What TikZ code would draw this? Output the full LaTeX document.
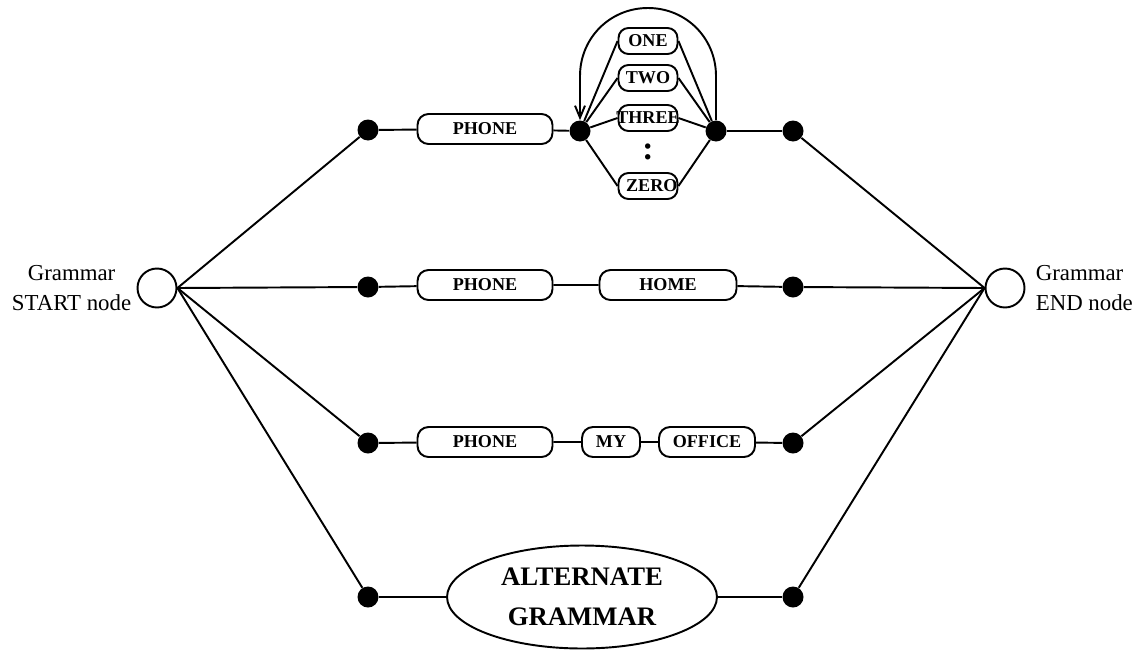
\documentclass[tikz,border=0pt]{standalone}
\usepackage{fontspec}
\setmainfont{Liberation Serif}
\usepackage{tikz}
\usetikzlibrary{arrows,arrows.meta,shapes,positioning}
\tikzstyle{word} = [rectangle, rounded corners=0.22cm, minimum width=2.7cm, minimum height=0.6cm, inner sep=0pt, text centered, draw, line width=1.1pt, font=\fontsize{10.3}{12}\selectfont\bfseries]
\tikzstyle{choice} = [word, rounded corners=0.2cm, minimum width=1.18cm, minimum height=0.52cm]
\tikzstyle{grammar} = [ellipse, minimum width=5.4cm, minimum height=2.06cm, inner sep=0pt, align=center, draw, line width=1.1pt, font=\fontsize{15.2}{22.8}\selectfont\bfseries]
\tikzstyle{terminal} = [circle, minimum size=0.78cm, inner sep=0pt, draw, line width=1.1pt]
\tikzstyle{junction} = [circle, minimum size=0.42cm, inner sep=0pt, fill=black]
\tikzstyle{tag} = [inner sep=0pt, font=\fontsize{13}{17}\selectfont]
\tikzstyle{link} = [line width=1.1pt]
\tikzstyle{arrow} = [line width=1.1pt,-{Straight Barb[length=0.24cm,width=0.2cm]}]

\begin{document}
\begin{tikzpicture}[x=0.02cm, y=-0.02cm]
\useasboundingbox (0,0) rectangle (1136,653);
% Start and end
\node[terminal] (start) at (157,288) {};
\node[terminal] (finish) at (1005,288) {};
\node[tag, align=center, left=0.1cm of start] (startlbl) {Grammar\\START node};
\node[tag, align=left, right=0.2cm of finish] (finishlbl) {Grammar\\END node};

% Path 1: phone + digit loop
\node[junction] (a1) at (368,130) {};
\node[word] (phoneA) at (485,129) {PHONE};
\node[junction] (split) at (580,131) {};
\node[choice] (one) at (648,41) {ONE};
\node[choice] (two) at (648,78) {TWO};
\node[choice] (three) at (648,118) {\makebox[1.1cm]{THREE}};
\node[inner sep=0pt, font=\fontsize{19}{19}\selectfont\bfseries] (more) at (648,152) {:};
\node[choice] (zero) at (648,186) {\makebox[1.1cm]{\hspace{0.15cm}ZERO}};
\node[junction] (merge) at (716,131) {};
\node[junction] (b1) at (793,131) {};

% Path 2
\node[junction] (a2) at (368,287) {};
\node[word] (phoneB) at (485,285) {PHONE};
\node[word, minimum width=2.74cm] (home) at (668,285) {HOME};
\node[junction] (b2) at (793,287) {};

% Path 3
\node[junction] (a3) at (368,443) {};
\node[word] (phoneC) at (485,442) {PHONE};
\node[word, minimum width=1.16cm] (my) at (611,442) {MY};
\node[word, minimum width=1.92cm] (office) at (707,442) {OFFICE};
\node[junction] (b3) at (793,443) {};

% Path 4
\node[junction] (a4) at (368,597) {};
\node[grammar] (alt) at (582,597) {ALTERNATE\\GRAMMAR};
\node[junction] (b4) at (793,597) {};

\foreach \n in {a1,a2,a3,a4}
  \draw[link] (start.east) -- (\n);
\foreach \n in {b1,b2,b3,b4}
  \draw[link] (\n) -- (finish.west);

\draw[link] (a1) -- (phoneA) -- (split);
\foreach \n in {one,two,three,zero} {
  \draw[link] (split) -- (\n.west);
  \draw[link] (\n.east) -- (merge);
}
\draw[link] (merge) -- (b1);
\draw[arrow] (merge.north) -- (716,76) .. controls (716,38) and (686,8) .. (648,8)
  .. controls (610,8) and (580,38) .. (580,76) -- (split.north);

\draw[link] (a2) -- (phoneB) -- (home) -- (b2);
\draw[link] (a3) -- (phoneC) -- (my) -- (office) -- (b3);
\draw[link] (a4) -- (alt) -- (b4);
\end{tikzpicture}
\end{document}
